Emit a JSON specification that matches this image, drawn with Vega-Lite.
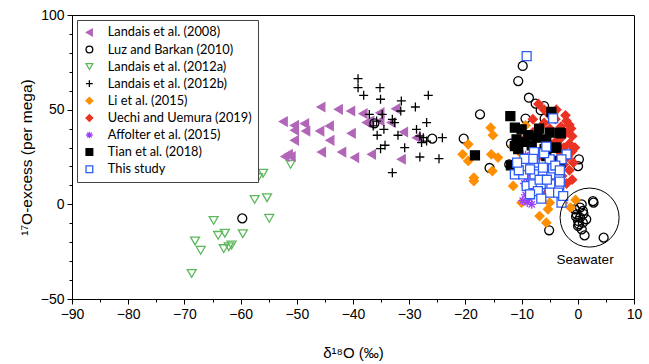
{
"$schema": "https://vega.github.io/schema/vega-lite/v6.json",
"width": 562, "height": 284,
"autosize": "none",
"padding": {"left": 72, "top": 15, "right": 15, "bottom": 65},
"background": "white",
"config": {"view": {"stroke": "black", "strokeWidth": 1},
  "legend": {"strokeColor": "#444", "fillColor": "white", "padding": 6, "labelFont": "Lato", "labelFontSize": 12.8, "labelColor": "black",
    "symbolSize": 45, "symbolStrokeWidth": 1.3, "rowPadding": 3.1, "labelOffset": 12, "labelLimit": 300, "offset": 5}},
"resolve": {"axis": {"x": "independent", "y": "independent"}},
"datasets": {
"pts": [
{"s":"Landais et al. (2012a)","x":-56.0,"y":16.4},{"s":"Landais et al. (2012a)","x":-56.9,"y":14.1},{"s":"Landais et al. (2012a)","x":-57.5,"y":2.6},{"s":"Landais et al. (2012a)","x":-55.3,"y":3.5},{"s":"Landais et al. (2012a)","x":-54.9,"y":-7.4},{"s":"Landais et al. (2012a)","x":-64.8,"y":-8.5},{"s":"Landais et al. (2012a)","x":-59.6,"y":-15.5},{"s":"Landais et al. (2012a)","x":-64.0,"y":-16.4},{"s":"Landais et al. (2012a)","x":-62.8,"y":-15.3},{"s":"Landais et al. (2012a)","x":-68.1,"y":-19.4},{"s":"Landais et al. (2012a)","x":-67.1,"y":-24.3},{"s":"Landais et al. (2012a)","x":-61.6,"y":-21.5},{"s":"Landais et al. (2012a)","x":-63.0,"y":-23.4},{"s":"Landais et al. (2012a)","x":-62.1,"y":-22.4},{"s":"Landais et al. (2012a)","x":-68.7,"y":-36.5},{"s":"Landais et al. (2012a)","x":-51.1,"y":21.1},
{"s":"Landais et al. (2008)","x":-45.7,"y":51.4},{"s":"Landais et al. (2008)","x":-42.6,"y":50.2},{"s":"Landais et al. (2008)","x":-40.4,"y":49.3},{"s":"Landais et al. (2008)","x":-38.2,"y":47.9},{"s":"Landais et al. (2008)","x":-37.0,"y":44.0},{"s":"Landais et al. (2008)","x":-35.2,"y":48.4},{"s":"Landais et al. (2008)","x":-32.4,"y":50.5},{"s":"Landais et al. (2008)","x":-52.4,"y":43.7},{"s":"Landais et al. (2008)","x":-50.4,"y":41.7},{"s":"Landais et al. (2008)","x":-48.6,"y":42.6},{"s":"Landais et al. (2008)","x":-50.4,"y":39.1},{"s":"Landais et al. (2008)","x":-48.4,"y":38.7},{"s":"Landais et al. (2008)","x":-45.9,"y":38.7},{"s":"Landais et al. (2008)","x":-44.2,"y":41.4},{"s":"Landais et al. (2008)","x":-40.3,"y":37.5},{"s":"Landais et al. (2008)","x":-50.4,"y":33.8},{"s":"Landais et al. (2008)","x":-44.1,"y":33.8},{"s":"Landais et al. (2008)","x":-51.5,"y":26.4},{"s":"Landais et al. (2008)","x":-51.0,"y":25.2},{"s":"Landais et al. (2008)","x":-52.1,"y":25.2},{"s":"Landais et al. (2008)","x":-45.6,"y":27.6},{"s":"Landais et al. (2008)","x":-42.0,"y":27.6},{"s":"Landais et al. (2008)","x":-39.7,"y":24.7},{"s":"Landais et al. (2008)","x":-36.7,"y":26.4},{"s":"Landais et al. (2008)","x":-31.4,"y":23.8},{"s":"Landais et al. (2008)","x":-31.0,"y":38.2},{"s":"Landais et al. (2008)","x":-28.7,"y":35.2},{"s":"Landais et al. (2008)","x":-35.2,"y":44.0},{"s":"Landais et al. (2008)","x":-33.2,"y":43.2},{"s":"Landais et al. (2008)","x":-37.6,"y":43.2},
{"s":"Landais et al. (2012b)","x":-39.1,"y":66.4},{"s":"Landais et al. (2012b)","x":-39.1,"y":61.6},{"s":"Landais et al. (2012b)","x":-38.1,"y":57.6},{"s":"Landais et al. (2012b)","x":-35.2,"y":61.6},{"s":"Landais et al. (2012b)","x":-35.1,"y":55.5},{"s":"Landais et al. (2012b)","x":-31.4,"y":54.6},{"s":"Landais et al. (2012b)","x":-26.6,"y":57.6},{"s":"Landais et al. (2012b)","x":-28.9,"y":51.4},{"s":"Landais et al. (2012b)","x":-31.5,"y":49.3},{"s":"Landais et al. (2012b)","x":-37.1,"y":47.5},{"s":"Landais et al. (2012b)","x":-34.8,"y":47.5},{"s":"Landais et al. (2012b)","x":-35.8,"y":44.0},{"s":"Landais et al. (2012b)","x":-33.0,"y":44.9},{"s":"Landais et al. (2012b)","x":-32.6,"y":43.2},{"s":"Landais et al. (2012b)","x":-36.4,"y":41.4},{"s":"Landais et al. (2012b)","x":-34.5,"y":39.6},{"s":"Landais et al. (2012b)","x":-26.9,"y":43.2},{"s":"Landais et al. (2012b)","x":-35.7,"y":36.5},{"s":"Landais et al. (2012b)","x":-32.0,"y":36.5},{"s":"Landais et al. (2012b)","x":-28.7,"y":39.6},{"s":"Landais et al. (2012b)","x":-27.5,"y":35.2},{"s":"Landais et al. (2012b)","x":-27.8,"y":32.6},{"s":"Landais et al. (2012b)","x":-26.9,"y":33.4},{"s":"Landais et al. (2012b)","x":-24.1,"y":35.2},{"s":"Landais et al. (2012b)","x":-34.3,"y":31.2},{"s":"Landais et al. (2012b)","x":-35.1,"y":29.4},{"s":"Landais et al. (2012b)","x":-30.8,"y":29.9},{"s":"Landais et al. (2012b)","x":-28.1,"y":25.0},{"s":"Landais et al. (2012b)","x":-24.7,"y":24.1},{"s":"Landais et al. (2012b)","x":-33.0,"y":16.7},{"s":"Landais et al. (2012b)","x":-28.1,"y":36.1},
{"s":"Luz and Barkan (2010)","x":-59.7,"y":-7.4},{"s":"Luz and Barkan (2010)","x":-36.2,"y":42.8},{"s":"Luz and Barkan (2010)","x":-25.9,"y":34.7},{"s":"Luz and Barkan (2010)","x":-17.4,"y":47.5},{"s":"Luz and Barkan (2010)","x":-20.3,"y":34.7},{"s":"Luz and Barkan (2010)","x":-15.7,"y":19.2},{"s":"Luz and Barkan (2010)","x":-12.2,"y":21.1},{"s":"Luz and Barkan (2010)","x":-11.9,"y":32.1},{"s":"Luz and Barkan (2010)","x":-9.8,"y":73.1},{"s":"Luz and Barkan (2010)","x":-10.6,"y":65.1},{"s":"Luz and Barkan (2010)","x":-8.7,"y":56.3},{"s":"Luz and Barkan (2010)","x":-7.5,"y":53.2},{"s":"Luz and Barkan (2010)","x":-6.0,"y":51.9},{"s":"Luz and Barkan (2010)","x":-6.6,"y":49.7},{"s":"Luz and Barkan (2010)","x":-5.9,"y":45.3},{"s":"Luz and Barkan (2010)","x":-9.3,"y":45.3},{"s":"Luz and Barkan (2010)","x":0.2,"y":23.8},{"s":"Luz and Barkan (2010)","x":0.05,"y":20.2},{"s":"Luz and Barkan (2010)","x":2.8,"y":0.9},{"s":"Luz and Barkan (2010)","x":0.4,"y":-1.7},{"s":"Luz and Barkan (2010)","x":0.7,"y":0},{"s":"Luz and Barkan (2010)","x":-0.2,"y":-5.3},{"s":"Luz and Barkan (2010)","x":0.4,"y":-7.0},{"s":"Luz and Barkan (2010)","x":0.05,"y":-8.8},{"s":"Luz and Barkan (2010)","x":0.9,"y":-9.7},{"s":"Luz and Barkan (2010)","x":1.5,"y":-7.9},{"s":"Luz and Barkan (2010)","x":0.05,"y":-11.4},{"s":"Luz and Barkan (2010)","x":0.7,"y":-13.2},{"s":"Luz and Barkan (2010)","x":1.2,"y":-16.4},{"s":"Luz and Barkan (2010)","x":4.6,"y":-17.6},{"s":"Luz and Barkan (2010)","x":-5.1,"y":-13.7},{"s":"Luz and Barkan (2010)","x":0.9,"y":-3.5},{"s":"Luz and Barkan (2010)","x":-0.5,"y":-2.6},{"s":"Luz and Barkan (2010)","x":2.7,"y":1.7},{"s":"Luz and Barkan (2010)","x":-0.3,"y":-6.5},{"s":"Luz and Barkan (2010)","x":1.0,"y":-5.0},{"s":"Luz and Barkan (2010)","x":0.2,"y":-10.5},
{"s":"Li et al. (2015)","x":-15.5,"y":40.5},{"s":"Li et al. (2015)","x":-15.1,"y":36.5},{"s":"Li et al. (2015)","x":-19.5,"y":31.7},{"s":"Li et al. (2015)","x":-20.5,"y":26.4},{"s":"Li et al. (2015)","x":-15.4,"y":26.4},{"s":"Li et al. (2015)","x":-14.2,"y":24.7},{"s":"Li et al. (2015)","x":-15.2,"y":17.6},{"s":"Li et al. (2015)","x":-18.5,"y":14.1},{"s":"Li et al. (2015)","x":-9.3,"y":41.7},{"s":"Li et al. (2015)","x":-11.5,"y":30.8},{"s":"Li et al. (2015)","x":-19.5,"y":22.9},{"s":"Li et al. (2015)","x":-18.5,"y":12.3},{"s":"Li et al. (2015)","x":-11.5,"y":9.7},{"s":"Li et al. (2015)","x":-10.0,"y":0.9},{"s":"Li et al. (2015)","x":-6.8,"y":-6.2},{"s":"Li et al. (2015)","x":-5.6,"y":-9.7},{"s":"Li et al. (2015)","x":-5.3,"y":-2.6},{"s":"Li et al. (2015)","x":-5.0,"y":0.9},{"s":"Li et al. (2015)","x":-2.6,"y":0.9},{"s":"Li et al. (2015)","x":-1.3,"y":-1.7},{"s":"Li et al. (2015)","x":-0.4,"y":2.3},{"s":"Li et al. (2015)","x":-3.2,"y":5.3},{"s":"Li et al. (2015)","x":-10.5,"y":28.0},
{"s":"Uechi and Uemura (2019)","x":-7,"y":53},{"s":"Uechi and Uemura (2019)","x":-6,"y":50},{"s":"Uechi and Uemura (2019)","x":-5,"y":47},{"s":"Uechi and Uemura (2019)","x":-4,"y":45},{"s":"Uechi and Uemura (2019)","x":-2,"y":44},{"s":"Uechi and Uemura (2019)","x":-1.5,"y":42},{"s":"Uechi and Uemura (2019)","x":-3,"y":41},{"s":"Uechi and Uemura (2019)","x":-5,"y":40},{"s":"Uechi and Uemura (2019)","x":-2,"y":38},{"s":"Uechi and Uemura (2019)","x":-1,"y":36},{"s":"Uechi and Uemura (2019)","x":-3,"y":35},{"s":"Uechi and Uemura (2019)","x":-4,"y":33},{"s":"Uechi and Uemura (2019)","x":-1.5,"y":32},{"s":"Uechi and Uemura (2019)","x":-2.5,"y":30},{"s":"Uechi and Uemura (2019)","x":-1,"y":28},{"s":"Uechi and Uemura (2019)","x":-3,"y":27},{"s":"Uechi and Uemura (2019)","x":-1.8,"y":25},{"s":"Uechi and Uemura (2019)","x":-0.8,"y":22},{"s":"Uechi and Uemura (2019)","x":-2.5,"y":21},{"s":"Uechi and Uemura (2019)","x":-1.5,"y":18},{"s":"Uechi and Uemura (2019)","x":-2.8,"y":15},{"s":"Uechi and Uemura (2019)","x":-1,"y":13},{"s":"Uechi and Uemura (2019)","x":-2,"y":11},{"s":"Uechi and Uemura (2019)","x":-4,"y":17},{"s":"Uechi and Uemura (2019)","x":-6,"y":30},{"s":"Uechi and Uemura (2019)","x":-8,"y":38},{"s":"Uechi and Uemura (2019)","x":-9,"y":36},{"s":"Uechi and Uemura (2019)","x":-7,"y":25},{"s":"Uechi and Uemura (2019)","x":-5.5,"y":6},{"s":"Uechi and Uemura (2019)","x":-7.5,"y":8},{"s":"Uechi and Uemura (2019)","x":-6.5,"y":12},{"s":"Uechi and Uemura (2019)","x":-3.5,"y":24},{"s":"Uechi and Uemura (2019)","x":-5,"y":20},{"s":"Uechi and Uemura (2019)","x":-8,"y":45},{"s":"Uechi and Uemura (2019)","x":-6,"y":43},{"s":"Uechi and Uemura (2019)","x":-0.5,"y":30},{"s":"Uechi and Uemura (2019)","x":-1.2,"y":40},{"s":"Uechi and Uemura (2019)","x":-2.2,"y":47},{"s":"Uechi and Uemura (2019)","x":-3.8,"y":50},{"s":"Uechi and Uemura (2019)","x":-4.5,"y":12},
{"s":"Affolter et al. (2015)","x":-9.0,"y":1},{"s":"Affolter et al. (2015)","x":-8.6,"y":3},{"s":"Affolter et al. (2015)","x":-9.3,"y":5},{"s":"Affolter et al. (2015)","x":-8.8,"y":8},{"s":"Affolter et al. (2015)","x":-9.5,"y":11},{"s":"Affolter et al. (2015)","x":-9.1,"y":14},{"s":"Affolter et al. (2015)","x":-8.7,"y":17},{"s":"Affolter et al. (2015)","x":-9.4,"y":20},{"s":"Affolter et al. (2015)","x":-9.0,"y":23},{"s":"Affolter et al. (2015)","x":-9.3,"y":26},{"s":"Affolter et al. (2015)","x":-8.2,"y":0},{"s":"Affolter et al. (2015)","x":-9.8,"y":2},
{"s":"Tian et al. (2018)","x":-12.0,"y":46.6},{"s":"Tian et al. (2018)","x":-4.7,"y":48.8},{"s":"Tian et al. (2018)","x":-18.3,"y":25.9},{"s":"Tian et al. (2018)","x":-11.2,"y":40.5},{"s":"Tian et al. (2018)","x":-10.0,"y":39.6},{"s":"Tian et al. (2018)","x":-6.9,"y":40.0},{"s":"Tian et al. (2018)","x":-5.0,"y":37.9},{"s":"Tian et al. (2018)","x":-3.2,"y":37.9},{"s":"Tian et al. (2018)","x":-10.9,"y":34.3},{"s":"Tian et al. (2018)","x":-11.2,"y":30.8},{"s":"Tian et al. (2018)","x":-8.2,"y":31.2},{"s":"Tian et al. (2018)","x":-7.2,"y":35.2},{"s":"Tian et al. (2018)","x":-5.6,"y":30.0},{"s":"Tian et al. (2018)","x":-3.8,"y":30.0},{"s":"Tian et al. (2018)","x":-10.6,"y":29.1},{"s":"Tian et al. (2018)","x":-5.6,"y":25.5},{"s":"Tian et al. (2018)","x":-4.4,"y":22.3},{"s":"Tian et al. (2018)","x":-11.9,"y":20.6},{"s":"Tian et al. (2018)","x":-3.0,"y":37.5},{"s":"Tian et al. (2018)","x":-5.6,"y":34.3},{"s":"Tian et al. (2018)","x":-4.1,"y":30.0},{"s":"Tian et al. (2018)","x":-3.8,"y":22.9},{"s":"Tian et al. (2018)","x":-3.1,"y":21.7},{"s":"Tian et al. (2018)","x":-5.9,"y":29.1},{"s":"Tian et al. (2018)","x":-8.8,"y":36.5},{"s":"Tian et al. (2018)","x":-9.5,"y":33.0},
{"s":"This study","x":-9.1,"y":78.3},{"s":"This study","x":-4.4,"y":45.4},{"s":"This study","x":-11.2,"y":15.8},{"s":"This study","x":-9.7,"y":15.8},{"s":"This study","x":-7.7,"y":15.8},{"s":"This study","x":-6.2,"y":15.0},{"s":"This study","x":-4.7,"y":15.8},{"s":"This study","x":-3.3,"y":15.0},{"s":"This study","x":-9.1,"y":9.7},{"s":"This study","x":-7.9,"y":10.6},{"s":"This study","x":-6.6,"y":10.6},{"s":"This study","x":-4.7,"y":10.6},{"s":"This study","x":-3.3,"y":10.0},{"s":"This study","x":-7.1,"y":7.0},{"s":"This study","x":-5.0,"y":6.2},{"s":"This study","x":-3.5,"y":6.2},{"s":"This study","x":-6.5,"y":3.0},{"s":"This study","x":-2.9,"y":0.9},{"s":"This study","x":-8.5,"y":5.3},{"s":"This study","x":-2.6,"y":4.4},{"s":"This study","x":-9.8,"y":20.2},{"s":"This study","x":-7.7,"y":22.0},{"s":"This study","x":-7.7,"y":26.4},{"s":"This study","x":-5.0,"y":23.8},{"s":"This study","x":-2.0,"y":26.4},{"s":"This study","x":-7.8,"y":27.6},{"s":"This study","x":-2.9,"y":23.8},{"s":"This study","x":-6.2,"y":19.4},{"s":"This study","x":-4.4,"y":19.0},{"s":"This study","x":-10.5,"y":18.0},{"s":"This study","x":-8.5,"y":18.5},{"s":"This study","x":-6.8,"y":13.0},{"s":"This study","x":-5.5,"y":13.0},{"s":"This study","x":-4.0,"y":20.5},{"s":"This study","x":-3.2,"y":18.0},{"s":"This study","x":-8.0,"y":24.0},{"s":"This study","x":-6.0,"y":27.0},{"s":"This study","x":-5.6,"y":30.5},{"s":"This study","x":-9.5,"y":24.0},{"s":"This study","x":-10.8,"y":22.0},{"s":"This study","x":-3.2,"y":12.0}
],
"sea": [{"x": 2.1, "y": -7}],
"lab": [{"x": 1.3, "y": -29.5, "t": "Seawater"}]
},
"layer": [
{
"data": {"name": "pts"},
"mark": {"type": "point", "opacity": 1, "strokeWidth": 1.3, "size": 80},
"encoding": {
"x": {"field": "x", "type": "quantitative", "title": "δ¹⁸O (‰)",
  "scale": {"domain": [-90, 10], "nice": false, "zero": false},
  "axis": {"orient": "bottom", "values": [-90,-80,-70,-60,-50,-40,-30,-20,-10,0,10], "tickSize": 5,
    "grid": false, "labelFlush": false, "labelOverlap": false, "labelBound": false,
    "domainColor": "black", "tickColor": "black", "labelColor": "black",
    "labelFont": "Liberation Sans", "labelFontSize": 14, "labelPadding": 3,
    "titleFont": "Liberation Sans", "titleFontSize": 15, "titleFontWeight": "normal", "titleColor": "black", "titlePadding": 24}},
"y": {"field": "y", "type": "quantitative", "title": "¹⁷O-excess (per mega)",
  "scale": {"domain": [-50, 100], "nice": false, "zero": false},
  "axis": {"orient": "left", "values": [-50, 0, 50, 100], "tickSize": 5,
    "grid": false, "labelOverlap": false, "labelBound": false,
    "domainColor": "black", "tickColor": "black", "labelColor": "black",
    "labelFont": "Liberation Sans", "labelFontSize": 14, "labelPadding": 3,
    "titleFont": "Liberation Sans", "titleFontSize": 15.5, "titleFontWeight": "normal", "titleColor": "black", "titlePadding": 6}},
"shape": {"field": "s", "type": "nominal", "title": null,
  "scale": {"domain": ["Landais et al. (2008)","Luz and Barkan (2010)","Landais et al. (2012a)","Landais et al. (2012b)","Li et al. (2015)","Uechi and Uemura (2019)","Affolter et al. (2015)","Tian et al. (2018)","This study"],
    "range": ["triangle-left","circle","triangle-down","M-1,0H1M0,-1V1","diamond","diamond","M-1,0H1M0,-1V1M-0.7,-0.7L0.7,0.7M-0.7,0.7L0.7,-0.7","square","square"]},
  "legend": {"orient": "top-left", "symbolSize": 45}},
"fill": {"field": "s", "type": "nominal", "title": null,
  "scale": {"domain": ["Landais et al. (2008)","Luz and Barkan (2010)","Landais et al. (2012a)","Landais et al. (2012b)","Li et al. (2015)","Uechi and Uemura (2019)","Affolter et al. (2015)","Tian et al. (2018)","This study"],
    "range": ["#b266b8","transparent","transparent","transparent","#ff8f00","#eb3323","transparent","#000000","#ffffff"]},
  "legend": {"orient": "top-left", "symbolSize": 45}},
"stroke": {"field": "s", "type": "nominal", "title": null,
  "scale": {"domain": ["Landais et al. (2008)","Luz and Barkan (2010)","Landais et al. (2012a)","Landais et al. (2012b)","Li et al. (2015)","Uechi and Uemura (2019)","Affolter et al. (2015)","Tian et al. (2018)","This study"],
    "range": ["#b266b8","#000000","#5cb85c","#000000","#ff8f00","#eb3323","#9b40ff","#000000","#2d5cf5"]},
  "legend": {"orient": "top-left", "symbolSize": 45}}
}
},
{
"data": {"name": "sea"},
"mark": {"type": "point", "shape": "circle", "size": 3480, "filled": false, "stroke": "black", "strokeWidth": 1, "opacity": 1},
"encoding": {
"x": {"field": "x", "type": "quantitative",
  "axis": {"orient": "bottom", "values": [-85,-75,-65,-55,-45,-35,-25,-15,-5,5], "tickSize": 3, "labels": false, "domain": false, "grid": false, "title": null, "tickColor": "black"}},
"y": {"field": "y", "type": "quantitative",
  "axis": {"orient": "left", "values": [-40,-30,-20,-10,10,20,30,40,60,70,80,90], "tickSize": 3, "labels": false, "domain": false, "grid": false, "title": null, "tickColor": "black"}}
}
},
{
"data": {"name": "lab"},
"mark": {"type": "text", "font": "Liberation Sans", "fontSize": 13.5, "color": "black"},
"encoding": {"x": {"field": "x", "type": "quantitative", "axis": null}, "y": {"field": "y", "type": "quantitative", "axis": null}, "text": {"field": "t"}}
}
]
}
